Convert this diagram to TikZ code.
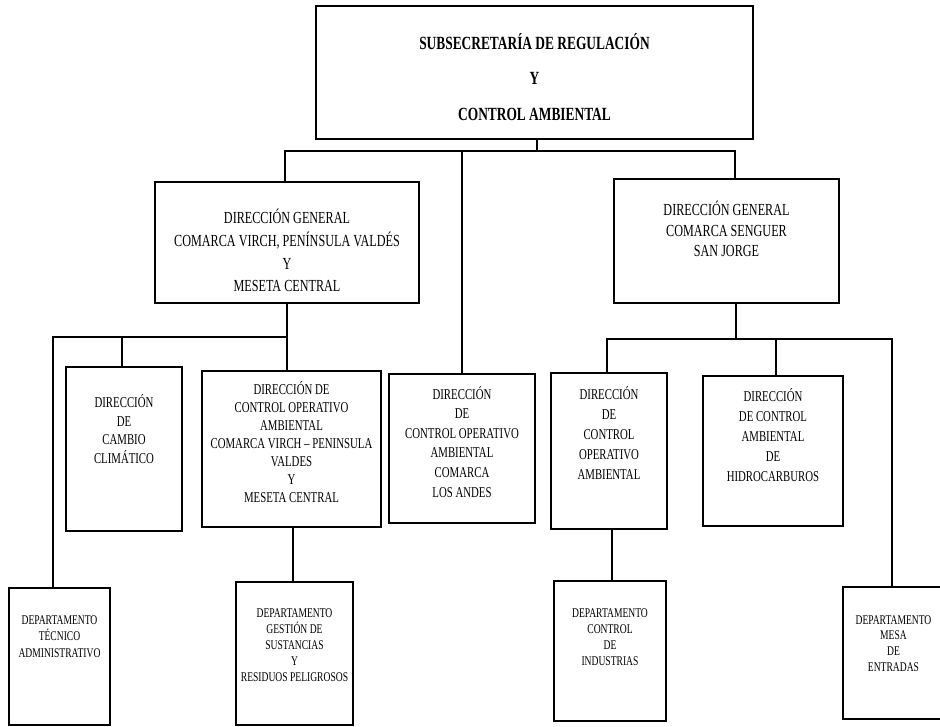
\documentclass[tikz,border=0pt]{standalone}
\usepackage{fontspec}
\newfontfamily\cond[FakeStretch=0.72]{Liberation Serif}
\begin{document}
\begin{tikzpicture}[x=1pt,y=-1pt,
  box/.style={draw=black, line width=1.1pt, inner sep=0pt, outer sep=0pt, anchor=north west, fill=none},
  conn/.style={draw=black, line width=1.1pt},
  txt/.style={align=center, inner sep=0pt, anchor=north, text=black},
  ftop/.style={font=\cond\fontsize{18.6}{35.5}\selectfont\bfseries},
  fdg/.style={font=\cond\fontsize{16.9}{22}\selectfont},
  fdir/.style={font=\cond\fontsize{15}{19}\selectfont},
  fdep/.style={font=\cond\fontsize{13.3}{16.3}\selectfont}]
\useasboundingbox (0,0) rectangle (940,727);
\clip (0,0) rectangle (940,727);
\fill[white] (0,0) rectangle (940,727);
% boxes
\node[box, minimum width=437pt, minimum height=133pt] (top) at (316,6) {};
\node[box, minimum width=264pt, minimum height=121pt] (dgl) at (155,182) {};
\node[box, minimum width=225pt, minimum height=124pt] (dgr) at (614,179) {};
\node[box, minimum width=116pt, minimum height=164pt] (cc) at (66,367) {};
\node[box, minimum width=179pt, minimum height=156pt] (vir) at (202,371) {};
\node[box, minimum width=146pt, minimum height=149pt] (andes) at (389,374) {};
\node[box, minimum width=116pt, minimum height=156pt] (coa) at (551,373) {};
\node[box, minimum width=140pt, minimum height=150pt] (hid) at (703,376) {};
\node[box, minimum width=101pt, minimum height=137pt] (tec) at (9,588) {};
\node[box, minimum width=117pt, minimum height=143pt] (ges) at (236,582) {};
\node[box, minimum width=112pt, minimum height=140pt] (ind) at (554,581) {};
\node[box, minimum width=101pt, minimum height=132pt] (mesa) at (843,587) {};
% texts
\node[txt, ftop] (ttop) at (534.5,33) {SUBSECRETARÍA DE REGULACIÓN\\Y\\CONTROL AMBIENTAL};
\node[txt, fdg, font=\cond\fontsize{16.9}{22.7}\selectfont] (tdgl) at (287,209) {DIRECCIÓN GENERAL\\COMARCA VIRCH, PENÍNSULA VALDÉS\\Y\\MESETA CENTRAL};
\node[txt, fdg, font=\cond\fontsize{16.9}{20.5}\selectfont] (tdgr) at (726.5,201) {DIRECCIÓN GENERAL\\COMARCA SENGUER\\SAN JORGE};
\node[txt, fdir, font=\cond\fontsize{15}{18.6}\selectfont] (tcc) at (124,394.5) {DIRECCIÓN\\DE\\CAMBIO\\CLIMÁTICO};
\node[txt, fdir, font=\cond\fontsize{15}{18}\selectfont] (tvir) at (291.5,381) {DIRECCIÓN DE\\CONTROL OPERATIVO\\AMBIENTAL\\COMARCA VIRCH – PENINSULA\\VALDES\\Y\\MESETA CENTRAL};
\node[txt, fdir, font=\cond\fontsize{15}{19.6}\selectfont] (tandes) at (462,386) {DIRECCIÓN\\DE\\CONTROL OPERATIVO\\AMBIENTAL\\COMARCA\\LOS ANDES};
\node[txt, fdir, font=\cond\fontsize{15}{20}\selectfont] (tcoa) at (609,386) {DIRECCIÓN\\DE\\CONTROL\\OPERATIVO\\AMBIENTAL};
\node[txt, fdir, font=\cond\fontsize{15}{20}\selectfont] (thid) at (773,388) {DIRECCIÓN\\DE CONTROL\\AMBIENTAL\\DE\\HIDROCARBUROS};
\node[txt, fdep, font=\cond\fontsize{13.3}{16.7}\selectfont] (ttec) at (59.5,615) {DEPARTAMENTO\\TÉCNICO\\ADMINISTRATIVO};
\node[txt, fdep, font=\cond\fontsize{13.3}{16}\selectfont] (tges) at (294.5,608) {DEPARTAMENTO\\GESTIÓN DE\\SUSTANCIAS\\Y\\RESIDUOS PELIGROSOS};
\node[txt, fdep, font=\cond\fontsize{13.3}{16.3}\selectfont] (tind) at (610,608) {DEPARTAMENTO\\CONTROL\\DE\\INDUSTRIAS};
\node[txt, fdep, font=\cond\fontsize{13.3}{15.7}\selectfont] (tmesa) at (893.5,615) {DEPARTAMENTO\\MESA\\DE\\ENTRADAS};
% bus coordinates
\coordinate (bus1) at (0,151);
\coordinate (bus2) at (0,337);
\coordinate (bus3) at (0,339);
% connectors
\draw[conn] ([xshift=2.5pt]top.south) -- ([xshift=2.5pt]top.south |- bus1);
\draw[conn] ([xshift=-2pt]dgl.north) |- ([xshift=8.5pt]dgr.north |- bus1) -- ([xshift=8.5pt]dgr.north);
\draw[conn] (andes.north) -- (andes.north |- bus1);
\draw[conn] (dgl.south) -- (dgl.south |- vir.north);
\draw[conn] ([xshift=-6.5pt]tec.north) |- (dgl.south |- bus2);
\draw[conn] ([xshift=-2pt]cc.north) -- ([xshift=-2pt]cc.north |- bus2);
\draw[conn] ([xshift=-1.5pt]ges.north) -- ([xshift=-1.5pt]ges.north |- vir.south);
\draw[conn] ([xshift=9.5pt]dgr.south) -- ([xshift=9.5pt]dgr.south |- bus3);
\draw[conn] ([xshift=-2pt]coa.north) |- ([xshift=-1.5pt]mesa.north |- bus3) -- ([xshift=-1.5pt]mesa.north);
\draw[conn] ([xshift=3pt]hid.north) -- ([xshift=3pt]hid.north |- bus3);
\draw[conn] ([xshift=2pt]ind.north) -- ([xshift=2pt]ind.north |- coa.south);
\end{tikzpicture}
\end{document}
